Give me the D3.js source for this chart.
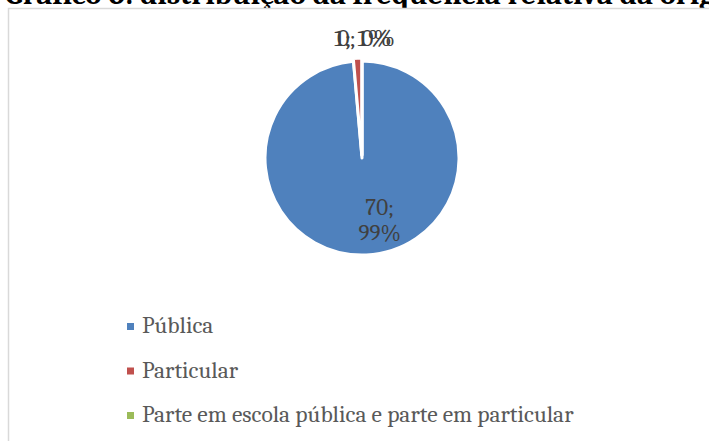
<!DOCTYPE html>
<html>
<head>
<meta charset="utf-8">
<script src="https://cdn.jsdelivr.net/npm/d3@7"></script>
<style>
    body { margin: 0; background: #fff; }
    svg { display: block; }
</style>
</head>
<body>
<svg id="chart" width="709" height="441"></svg>
<script>
// dados do gráfico
const categories = ["Pública", "Particular", "Parte em escola pública e parte em particular"];
const values = [70, 1, 0];
const percents = ["99%", "1%", "0%"];
const colors = ["#4F81BD", "#C0504D", "#9BBB59"];
const title = "Gráfico 6: distribuição da frequência relativa da origem escolar";

const svg = d3.select("#chart");
const serif = "Cambria, 'Liberation Serif', 'DejaVu Serif', serif";

// titulo (cortado no topo)
svg.append("text")
    .attr("x", 5)
    .attr("y", 3.5)
    .style("font-family", serif)
    .style("font-weight", "bold")
    .style("font-size", "30.5px")
    .style("fill", "#000")
    .text(title);

// moldura do grafico
svg.append("rect")
    .attr("x", 8.5)
    .attr("y", 8.5)
    .attr("width", 760)
    .attr("height", 500)
    .style("fill", "#fff")
    .style("stroke", "#d9d9d9")
    .style("stroke-width", 1.5);

const cx = 362, cy = 158, radius = 97;

const pie = d3.pie().sort(null).value(d => d.value);
const arcs = pie(categories.map((c, i) => ({ name: c, value: values[i], pct: percents[i], color: colors[i] })));

const arc = d3.arc().innerRadius(0).outerRadius(radius);
const labelArc = d3.arc().innerRadius(radius * 0.64).outerRadius(radius * 0.64);

const g = svg.append("g").attr("transform", `translate(${cx},${cy})`);

// fatias (a particular levemente destacada)
g.selectAll("path")
    .data(arcs)
    .enter()
    .append("path")
    .attr("d", arc)
    .attr("transform", function(d, i) {
        if (i === 0) return null;
        const mid = (d.startAngle + d.endAngle) / 2;
        return `translate(${Math.sin(mid) * 3},${-Math.cos(mid) * 3})`;
    })
    .style("fill", d => d.data.color)
    .style("stroke", "#fff")
    .style("stroke-width", 3)
    .style("stroke-linejoin", "round");

// rotulos
const lbl = g.append("g")
    .style("font-family", serif)
    .style("font-size", "23px")
    .style("fill", "#404040")
    .attr("text-anchor", "middle");

// rotulo da fatia grande (duas linhas)
const big = arcs[0];
const bc = labelArc.centroid(big);
const bt = lbl.append("text")
    .attr("transform", `translate(${bc[0] + 15},${bc[1]})`);
bt.append("tspan").attr("x", 0).attr("dy", "-0.2em").text(big.data.value + ";");
bt.append("tspan").attr("x", 0).attr("dy", "1.1em").text(big.data.pct);

// rotulos das fatias pequenas (fora, sobrepostos)
const outArc = d3.arc().innerRadius(radius + 14).outerRadius(radius + 14);
arcs.slice(1).forEach(function(d, i) {
    const c = outArc.centroid(d);
    lbl.append("text")
        .attr("x", c[0] + 6 - i * 2)
        .attr("y", c[1] - 1)
        .attr("textLength", 58)
        .attr("lengthAdjust", "spacingAndGlyphs")
        .text(d.data.value + "; " + d.data.pct);
});

// legenda
const legend = svg.append("g")
    .attr("transform", "translate(127,318)");

const row = legend.selectAll("g")
    .data(categories)
    .enter()
    .append("g")
    .attr("transform", (d, i) => `translate(0,${i * 44.5})`);

row.append("rect")
    .attr("x", 0)
    .attr("y", 5)
    .attr("width", 7)
    .attr("height", 7)
    .style("fill", (d, i) => colors[i]);

row.append("text")
    .attr("x", 15)
    .attr("y", 15)
    .style("font-family", serif)
    .style("font-size", "23.5px")
    .style("fill", "#595959")
    .text(d => d);
</script>
</body>
</html>
